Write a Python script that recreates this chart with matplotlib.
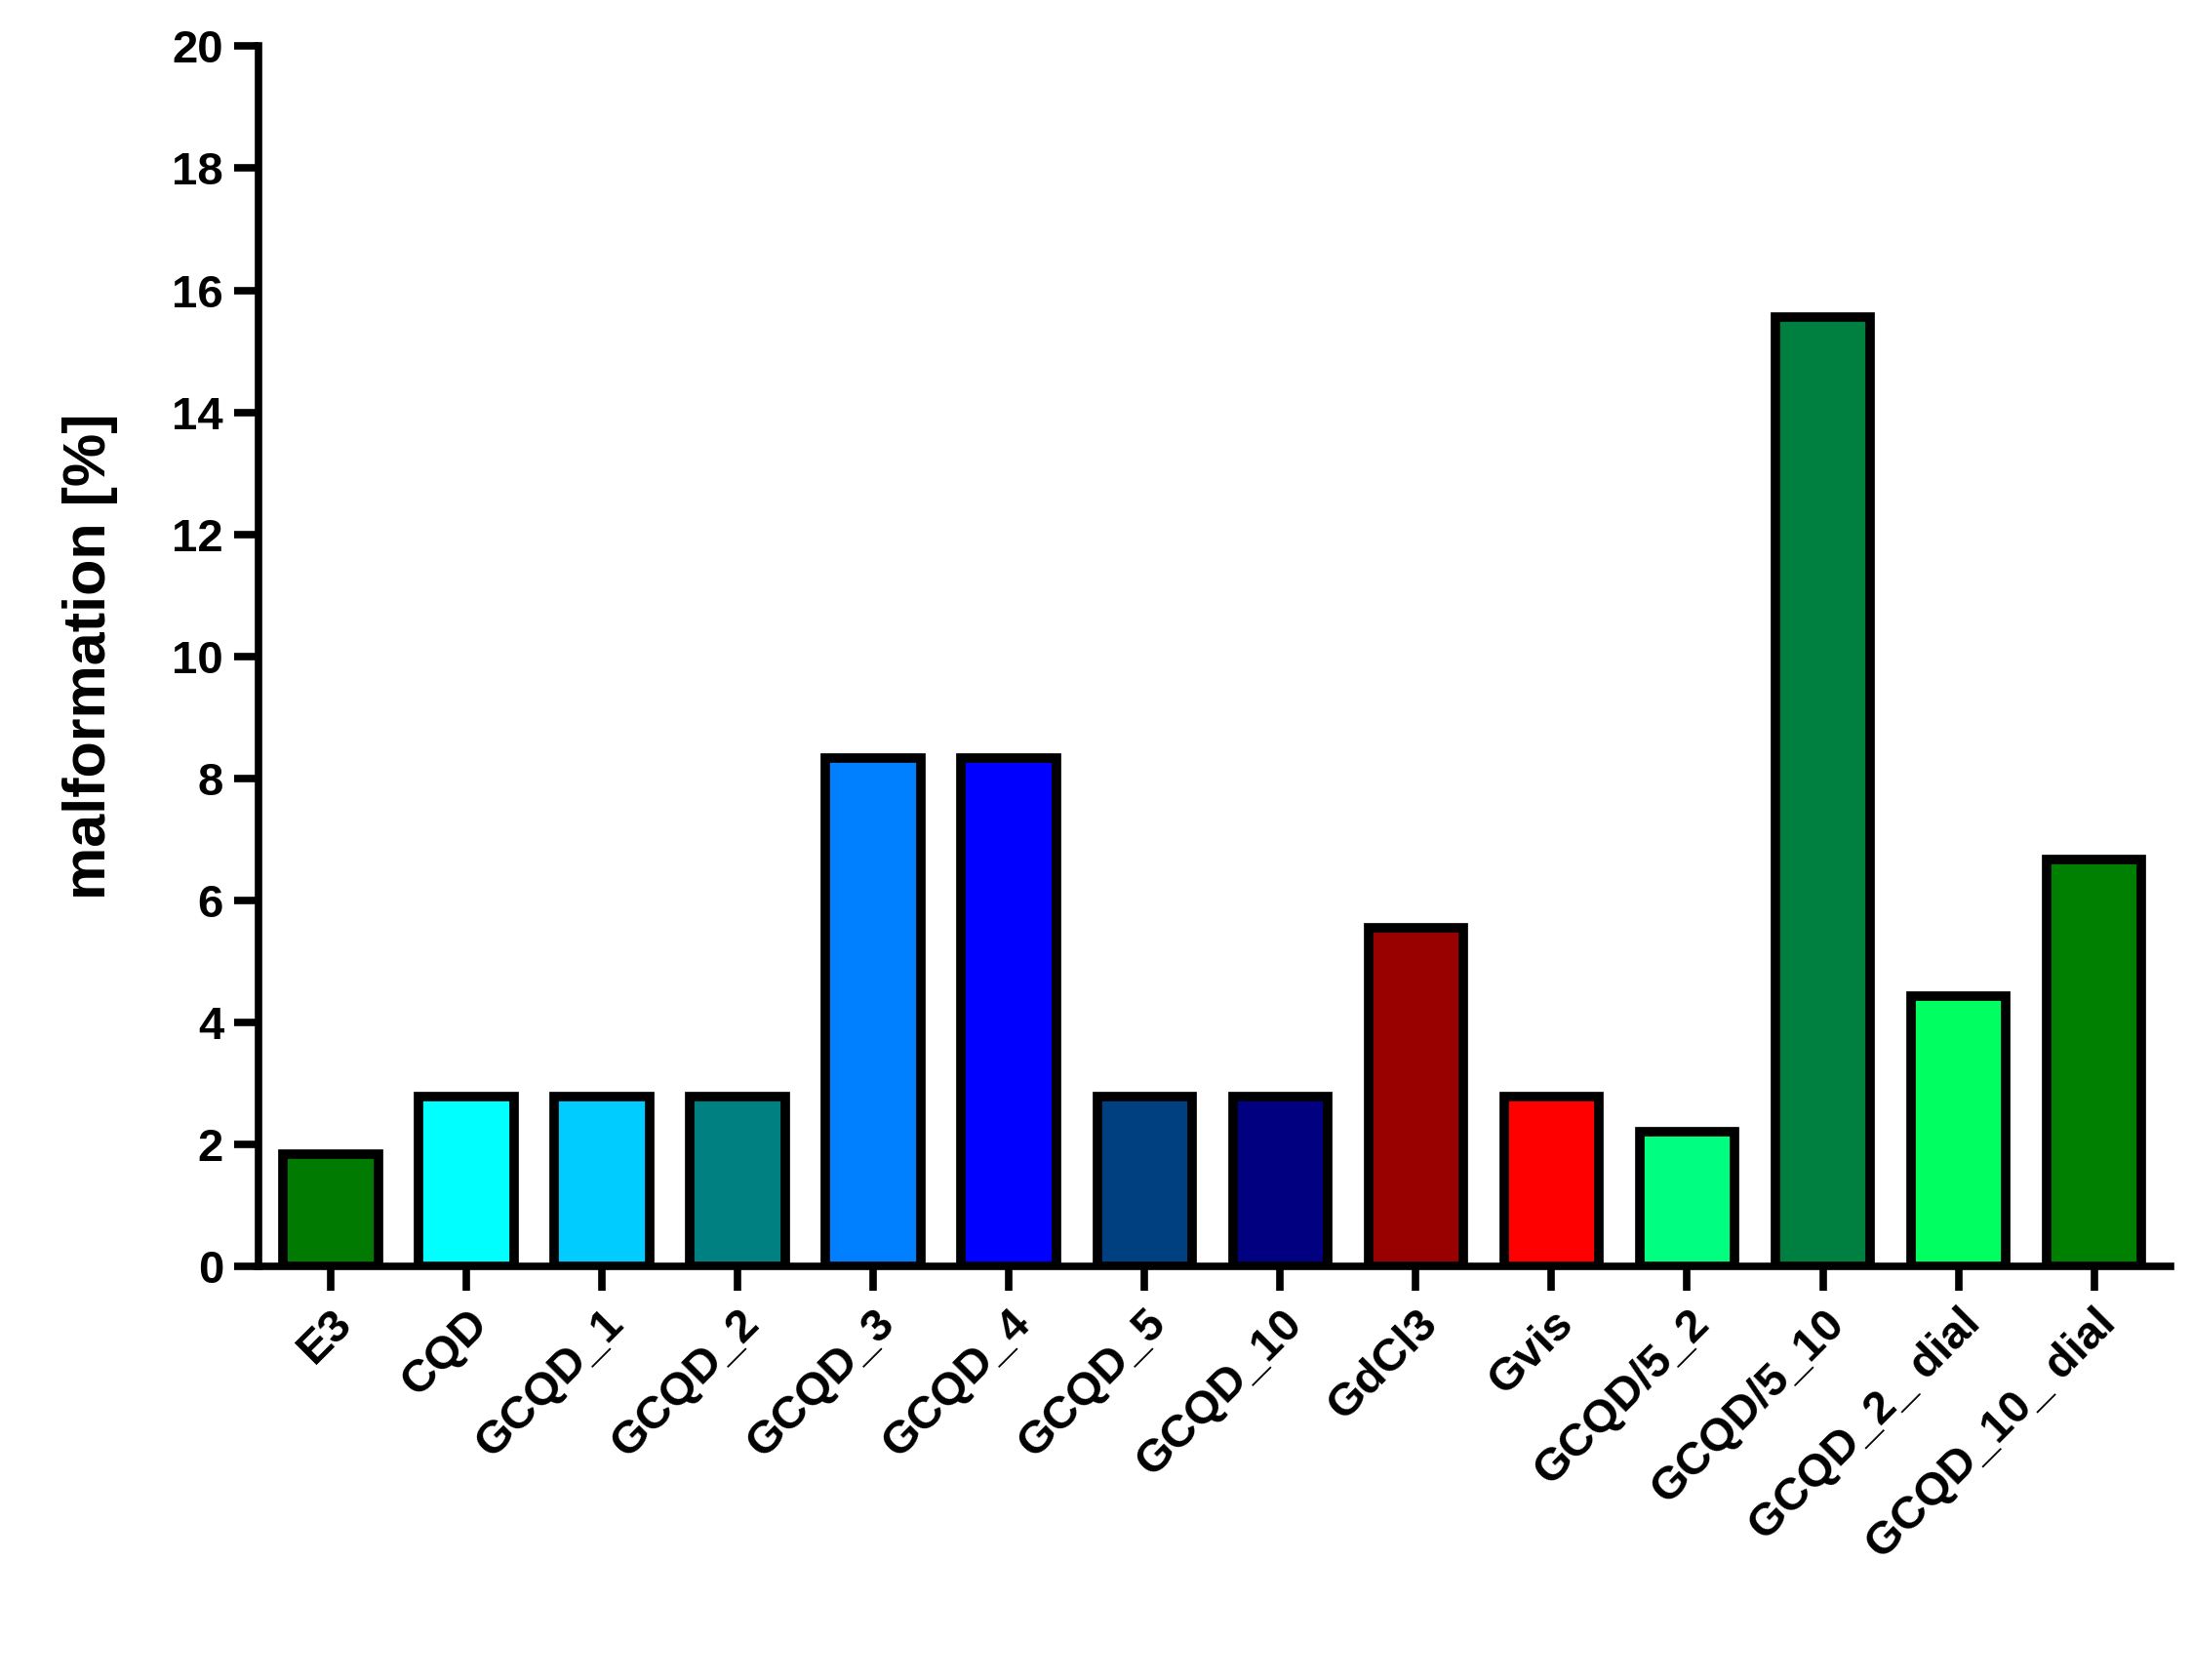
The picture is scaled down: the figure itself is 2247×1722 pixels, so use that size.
import matplotlib.pyplot as plt
import numpy as np

plt.rcParams["font.family"] = ["Liberation Sans", "DejaVu Sans"]
plt.rcParams["font.weight"] = "bold"

CATEGORIES = ["E3", "CQD", "GCQD_1", "GCQD_2", "GCQD_3", "GCQD_4", "GCQD_5",
              "GCQD_10", "GdCl3", "Gvis", "GCQD/5_2", "GCQD/5_10",
              "GCQD_2_ dial", "GCQD_10_ dial"]
VALUES = [1.85, 2.78, 2.78, 2.78, 8.33, 8.33, 2.78, 2.78, 5.56, 2.78, 2.22,
          15.56, 4.44, 6.67]
COLORS = ["#007A00", "#00FFFF", "#00CCFF", "#008080", "#0080FF", "#0000FF",
          "#004080", "#000080", "#990000", "#FF0000", "#00FF80", "#008040",
          "#00FF60", "#008000"]
Y_TICKS = list(range(0, 21, 2))

fig = plt.figure(figsize=(22.47, 17.22), dpi=100)
ax = fig.add_axes([0.118, 0.246, 0.872, 0.7265])

x = np.arange(len(CATEGORIES))
ax.bar(x, VALUES, width=0.7, color=COLORS, edgecolor="black", linewidth=7, zorder=2)

ax.set_xlim(-0.53, len(CATEGORIES) - 0.44)
ax.set_ylim(0, 20)
ax.set_yticks(Y_TICKS)
ax.set_yticklabels([str(t) for t in Y_TICKS], fontsize=34, fontweight="bold")
ax.set_xticks(x)
ax.set_xticklabels(CATEGORIES, rotation=45, ha="right", rotation_mode="anchor",
                   fontsize=34, fontweight="bold")
ax.set_ylabel("malformation [%]", fontsize=44, fontweight="bold", labelpad=40)

for side in ("top", "right"):
    ax.spines[side].set_visible(False)
for side in ("left", "bottom"):
    ax.spines[side].set_linewidth(5.5)
ax.tick_params(axis="both", width=5.5, length=18, pad=8)

fig.savefig("out.png", dpi=100)
